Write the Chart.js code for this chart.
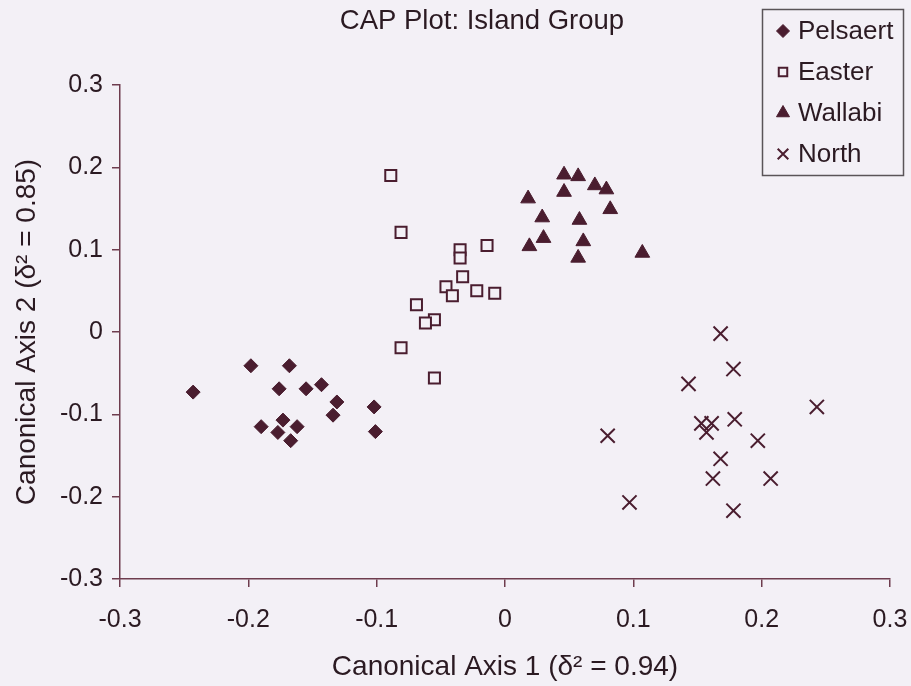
<!DOCTYPE html>
<html>
<head>
<meta charset="utf-8">
<script src="https://cdn.jsdelivr.net/npm/chart.js@4.4.1/dist/chart.umd.min.js"></script>
<style>
  html, body { margin: 0; padding: 0; background: #f3f0f6; }
  #chart { display: block; }
</style>
</head>
<body>
<canvas id="chart" width="911" height="686"></canvas>
<script>
// values
const pelsaertX = [-0.243, -0.198, -0.168, -0.176, -0.155, -0.143, -0.131, -0.134, -0.102, -0.101, -0.190, -0.173, -0.177, -0.162, -0.167];
const pelsaertY = [-0.073, -0.041, -0.041, -0.069, -0.069, -0.064, -0.085, -0.101, -0.091, -0.121, -0.115, -0.107, -0.122, -0.115, -0.132];

const easterX = [-0.089, -0.081, -0.035, -0.035, -0.014, -0.033, -0.046, -0.041, -0.022, -0.008, -0.069, -0.055, -0.062, -0.081, -0.055];
const easterY = [0.190, 0.121, 0.100, 0.090, 0.105, 0.067, 0.055, 0.044, 0.050, 0.047, 0.033, 0.015, 0.011, -0.019, -0.056];

const wallabiX = [0.046, 0.057, 0.070, 0.079, 0.046, 0.018, 0.082, 0.029, 0.058, 0.030, 0.019, 0.061, 0.057, 0.107];
const wallabiY = [0.191, 0.189, 0.178, 0.173, 0.170, 0.162, 0.149, 0.139, 0.136, 0.114, 0.104, 0.110, 0.090, 0.096];

const northX = [0.168, 0.178, 0.143, 0.080, 0.153, 0.161, 0.157, 0.179, 0.197, 0.168, 0.162, 0.207, 0.097, 0.178, 0.243];
const northY = [-0.002, -0.045, -0.063, -0.126, -0.111, -0.111, -0.122, -0.106, -0.132, -0.154, -0.178, -0.178, -0.207, -0.217, -0.091];

const groupNames = ['Pelsaert', 'Easter', 'Wallabi', 'North'];
const tickValues = [-0.3, -0.2, -0.1, 0, 0.1, 0.2, 0.3];
const tickLabels = ['-0.3', '-0.2', '-0.1', '0', '0.1', '0.2', '0.3'];
const chartTitle = 'CAP Plot: Island Group';

const bg = '#f3f0f6';
const ink = '#4a1d2f';
const axisColor = '#6e3c4e';
const textColor = '#2b1a22';
const fontFamily = '"Liberation Sans", Arial, sans-serif';

// marker styles for the plot and (smaller) for the legend
const markers = [
  { pointStyle: 'rectRot', radius: 7, legendRadius: 6.5, fill: ink, borderWidth: 1 },
  { pointStyle: 'rect', radius: 7.8, legendRadius: 6, fill: bg, borderWidth: 2 },
  { pointStyle: 'triangle', radius: 8.5, legendRadius: 7.5, fill: ink, borderWidth: 1 },
  { pointStyle: 'crossRot', radius: 10, legendRadius: 7.5, fill: ink, borderWidth: 2 }
];

function toPoints(xs, ys) {
  return xs.map((x, i) => ({ x: x, y: ys[i] }));
}

const seriesData = [
  toPoints(pelsaertX, pelsaertY),
  toPoints(easterX, easterY),
  toPoints(wallabiX, wallabiY),
  toPoints(northX, northY)
];

const datasets = groupNames.map((name, i) => ({
  label: name,
  data: seriesData[i],
  pointStyle: markers[i].pointStyle,
  pointRadius: markers[i].radius,
  pointBackgroundColor: markers[i].fill,
  pointBorderColor: ink,
  pointBorderWidth: markers[i].borderWidth,
  showLine: false
}));

// background of the whole canvas
const backgroundPlugin = {
  id: 'background',
  beforeDraw(chart) {
    const ctx = chart.ctx;
    ctx.save();
    ctx.fillStyle = bg;
    ctx.fillRect(0, 0, chart.width, chart.height);
    ctx.restore();
  }
};

// title (a bit left of the plot centre, as in the original) and boxed legend
const boxLegendPlugin = {
  id: 'boxLegend',
  afterDraw(chart) {
    const ctx = chart.ctx;
    ctx.save();
    ctx.fillStyle = textColor;
    ctx.font = '27.5px ' + fontFamily;
    ctx.textAlign = 'center';
    ctx.textBaseline = 'middle';
    ctx.fillText(chartTitle, 482, 21);

    ctx.strokeStyle = '#5a5458';
    ctx.lineWidth = 1.5;
    ctx.strokeRect(762.5, 9.5, 141, 166);

    ctx.font = '26px ' + fontFamily;
    ctx.textAlign = 'left';
    chart.data.datasets.forEach((ds, i) => {
      const y = 31 + i * 41;
      const m = markers[i];
      ctx.fillStyle = m.fill;
      ctx.strokeStyle = ink;
      ctx.lineWidth = m.borderWidth;
      Chart.helpers.drawPoint(ctx, {
        pointStyle: m.pointStyle,
        radius: m.legendRadius,
        rotation: 0,
        borderWidth: m.borderWidth
      }, 783, y);
      ctx.fillStyle = textColor;
      ctx.fillText(ds.label, 798, y + 1);
    });
    ctx.restore();
  }
};

function fixedTicks(scale) {
  scale.ticks = tickValues.map(v => ({ value: v }));
}

new Chart(document.getElementById('chart'), {
  type: 'scatter',
  data: { datasets: datasets },
  options: {
    responsive: false,
    animation: false,
    events: [],
    layout: { padding: { left: 0, right: 21, top: 85, bottom: 0 } },
    plugins: {
      legend: { display: false },
      tooltip: { enabled: false },
      title: { display: false }
    },
    scales: {
      x: {
        type: 'linear',
        min: -0.3,
        max: 0.3,
        afterBuildTicks: fixedTicks,
        afterFit: s => {
          s.height = 107;
          s.paddingLeft = 0;
          s.paddingRight = 0;
        },
        ticks: {
          color: textColor,
          font: { family: fontFamily, size: 25 },
          padding: 18,
          maxRotation: 0,
          callback: (v, i) => tickLabels[i]
        },
        grid: { drawOnChartArea: false, drawTicks: true, tickLength: 8, color: axisColor, lineWidth: 1.5 },
        border: { display: true, color: axisColor, width: 1.5 },
        title: {
          display: true,
          text: 'Canonical Axis 1 (δ² = 0.94)',
          color: textColor,
          font: { family: fontFamily, size: 28 },
          padding: { top: 0, bottom: 2 }
        }
      },
      y: {
        type: 'linear',
        min: -0.3,
        max: 0.3,
        afterBuildTicks: fixedTicks,
        afterFit: s => {
          s.width = 120;
          s.paddingTop = 0;
          s.paddingBottom = 0;
        },
        ticks: {
          color: textColor,
          font: { family: fontFamily, size: 25 },
          padding: 9,
          callback: (v, i) => tickLabels[i]
        },
        grid: { drawOnChartArea: false, drawTicks: true, tickLength: 8, color: axisColor, lineWidth: 1.5 },
        border: { display: true, color: axisColor, width: 1.5 },
        title: {
          display: true,
          text: 'Canonical Axis 2 (δ² = 0.85)',
          color: textColor,
          font: { family: fontFamily, size: 28 },
          padding: { top: 10, bottom: 0 }
        }
      }
    }
  },
  plugins: [backgroundPlugin, boxLegendPlugin]
});
</script>
</body>
</html>
